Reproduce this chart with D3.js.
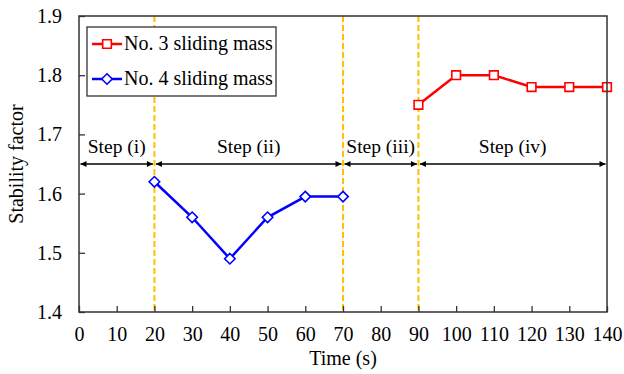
<!DOCTYPE html>
<html>
<head>
<meta charset="utf-8">
<script src="https://cdn.jsdelivr.net/npm/d3@7.9.0/dist/d3.min.js"></script>
<style>
  body { margin: 0; background: #fff; }
  text { font-family: "Liberation Serif", "Times New Roman", serif; fill: #000; }
</style>
</head>
<body>
<svg id="chart" width="624" height="374"></svg>
<script>
// data
const mass4Time = [20, 30, 40, 50, 60, 70];
const mass4Value = [1.62, 1.56, 1.49, 1.56, 1.595, 1.595];
const mass3Time = [90, 100, 110, 120, 130, 140];
const mass3Value = [1.75, 1.80, 1.80, 1.78, 1.78, 1.78];
const stepBounds = [0, 20, 70, 90, 140];
const stepNames = ['Step (i)', 'Step (ii)', 'Step (iii)', 'Step (iv)'];
const xTicks = d3.range(0, 141, 10);
const yTicks = [1.4, 1.5, 1.6, 1.7, 1.8, 1.9];
const stepArrowLevel = 1.65;

const margin = { top: 16, right: 17, bottom: 62, left: 79 };
const W = 624, H = 374;
const w = W - margin.left - margin.right;
const h = H - margin.top - margin.bottom;

const svg = d3.select('#chart');
const g = svg.append('g').attr('transform', `translate(${margin.left},${margin.top})`);

const x = d3.scaleLinear().domain([0, 140]).range([0, w]);
const y = d3.scaleLinear().domain([1.4, 1.9]).range([h, 0]);

// arrow heads
const defs = svg.append('defs');
defs.append('marker')
  .attr('id', 'arr')
  .attr('viewBox', '0 0 10 10')
  .attr('refX', 10).attr('refY', 5)
  .attr('markerWidth', 10).attr('markerHeight', 6)
  .attr('markerUnits', 'userSpaceOnUse')
  .attr('orient', 'auto-start-reverse')
  .append('path').attr('d', 'M0,0 L10,5 L0,10 Z').attr('fill', '#000');

// dashed step boundaries
stepBounds.slice(1, -1).forEach(b => {
  g.append('line')
    .attr('x1', x(b)).attr('x2', x(b))
    .attr('y1', 0).attr('y2', h)
    .attr('stroke', '#FFC000').attr('stroke-width', 2)
    .attr('stroke-dasharray', '6,3');
});

// step arrows + labels
stepNames.forEach((name, i) => {
  const a = x(stepBounds[i]) + 1.5, b = x(stepBounds[i + 1]) - 1.5;
  g.append('line')
    .attr('x1', a).attr('x2', b)
    .attr('y1', y(stepArrowLevel)).attr('y2', y(stepArrowLevel))
    .attr('stroke', '#000').attr('stroke-width', 1.4)
    .attr('marker-start', 'url(#arr)').attr('marker-end', 'url(#arr)');
  g.append('text')
    .attr('x', (x(stepBounds[i]) + x(stepBounds[i + 1])) / 2)
    .attr('y', y(stepArrowLevel) - 11)
    .attr('text-anchor', 'middle')
    .style('font-size', '19.5px')
    .text(name);
});

// series
const line = d3.line().x(d => x(d[0])).y(d => y(d[1]));
const blue = d3.zip(mass4Time, mass4Value);
const red = d3.zip(mass3Time, mass3Value);

g.append('path').datum(blue).attr('d', line)
  .attr('fill', 'none').attr('stroke', '#0000FF').attr('stroke-width', 2.5);
g.append('path').datum(red).attr('d', line)
  .attr('fill', 'none').attr('stroke', '#FF0000').attr('stroke-width', 2.5);

const diamond = d3.symbol().type(d3.symbolDiamond2).size(70);
const square = d3.symbol().type(d3.symbolSquare2).size(95);

g.selectAll('.blueMark').data(blue).join('path')
  .attr('transform', d => `translate(${x(d[0])},${y(d[1])})`)
  .attr('d', diamond)
  .attr('fill', '#fff').attr('stroke', '#0000FF').attr('stroke-width', 1.6);
g.selectAll('.redMark').data(red).join('path')
  .attr('transform', d => `translate(${x(d[0])},${y(d[1])})`)
  .attr('d', square)
  .attr('fill', '#fff').attr('stroke', '#FF0000').attr('stroke-width', 1.6);

// axes
const xAxis = g.append('g').attr('transform', `translate(0,${h})`)
  .call(d3.axisBottom(x).tickValues(xTicks).tickSizeInner(-6).tickSizeOuter(0).tickPadding(15));
const yAxis = g.append('g')
  .call(d3.axisLeft(y).tickValues(yTicks).tickFormat(d3.format('.1f')).tickSizeInner(-6).tickSizeOuter(0).tickPadding(17));
[xAxis, yAxis].forEach(a => {
  a.selectAll('text').style('font-size', '20px');
  a.selectAll('line').attr('stroke', '#333').attr('stroke-width', 1.3);
  a.select('.domain').remove();
});

// frame
g.append('rect').attr('width', w).attr('height', h)
  .attr('fill', 'none').attr('stroke', '#333').attr('stroke-width', 1.5);

// titles
svg.append('text')
  .attr('x', margin.left + w / 2).attr('y', 365)
  .attr('text-anchor', 'middle').style('font-size', '20px')
  .text('Time (s)');
svg.append('text')
  .attr('transform', `translate(23,${margin.top + h / 2}) rotate(-90)`)
  .attr('text-anchor', 'middle').style('font-size', '20px')
  .text('Stability factor');

// legend
const lg = svg.append('g').attr('transform', 'translate(87,27)');
lg.append('rect').attr('width', 189).attr('height', 69)
  .attr('fill', '#fff').attr('stroke', '#333').attr('stroke-width', 1.3);
const legendItems = [
  { label: 'No. 3 sliding mass', color: '#FF0000', sym: square },
  { label: 'No. 4 sliding mass', color: '#0000FF', sym: diamond }
];
legendItems.forEach((d, i) => {
  const yy = 17 + i * 35;
  lg.append('line').attr('x1', 5).attr('x2', 35).attr('y1', yy).attr('y2', yy)
    .attr('stroke', d.color).attr('stroke-width', 2.5);
  lg.append('path').attr('transform', `translate(20,${yy})`).attr('d', d.sym)
    .attr('fill', '#fff').attr('stroke', d.color).attr('stroke-width', 1.6);
  lg.append('text').attr('x', 37).attr('y', yy + 6).style('font-size', '20px').text(d.label);
});
</script>
</body>
</html>
